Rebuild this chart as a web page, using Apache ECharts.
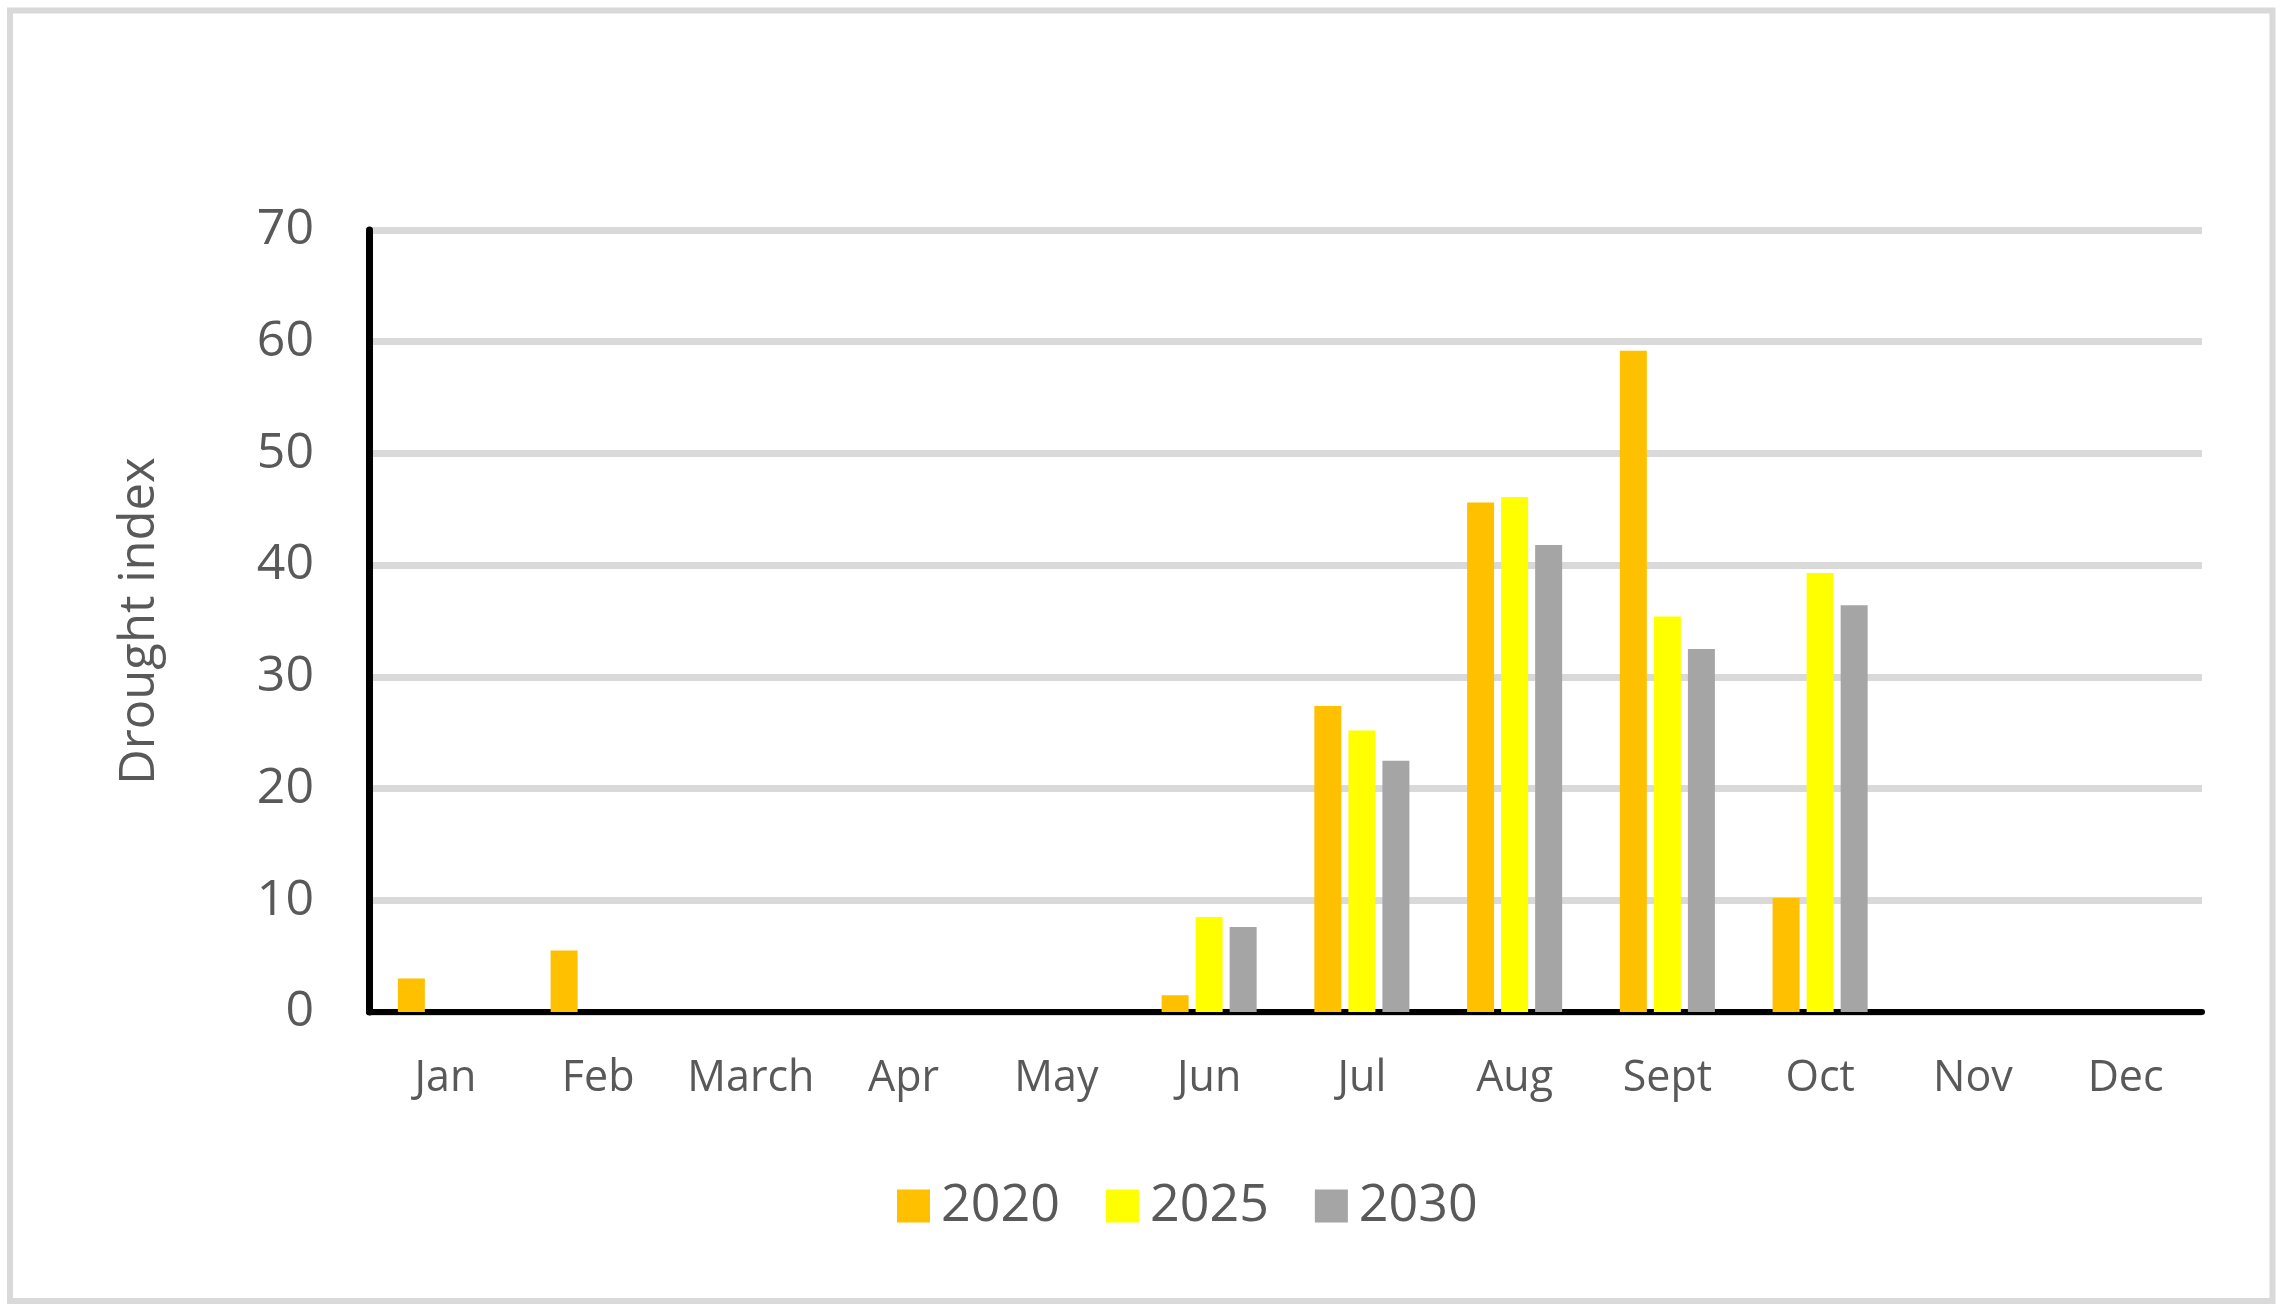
<!DOCTYPE html>
<html>
<head>
<meta charset="utf-8">
<script src="https://cdn.jsdelivr.net/npm/echarts@6/dist/echarts.min.js"></script>
<style>
  html, body { margin: 0; padding: 0; background: #fff; }
  #echarts { width: 2281px; height: 1311px; }
</style>
</head>
<body>
<div id="echarts"></div>
<script>
    var months = ['Jan', 'Feb', 'March', 'Apr', 'May', 'Jun', 'Jul', 'Aug', 'Sept', 'Oct', 'Nov', 'Dec']
    var years = ['2020', '2025', '2030']
    var yTicks = [0, 10, 20, 30, 40, 50, 60, 70]

    // drought index
    var data2020 = [3.0, 5.5, 0, 0, 0, 1.5, 27.4, 45.6, 59.2, 10.2, 0, 0]
    var data2025 = [0, 0, 0, 0, 0, 8.5, 25.2, 46.1, 35.4, 39.3, 0, 0]
    var data2030 = [0, 0, 0, 0, 0, 7.6, 22.5, 41.8, 32.5, 36.4, 0, 0]

    var colors = ['#FFC000', '#FFFF00', '#A5A5A5']
    var fontName = 'Open Sans'
    var labelColor = '#595959'

    var chart = echarts.init(document.getElementById('echarts'))

    var makeSeries = function (name, values, color) {
        return {
            name: name,
            type: 'bar',
            data: values,
            barWidth: 27,
            barGap: '26%',
            itemStyle: { color: color }
        }
    }

    var option = {
        animation: false,
        backgroundColor: '#fff',
        color: colors,
        graphic: [
            {
                type: 'rect',
                shape: { x: 10, y: 10.5, width: 2262.5, height: 1290.5 },
                style: { fill: null, stroke: '#D9D9D9', lineWidth: 6 },
                silent: true
            }
        ],
        grid: {
            left: 369,
            right: 79,
            top: 230,
            bottom: 299
        },
        legend: {
            data: years,
            left: 892,
            top: 1175,
            itemWidth: 33,
            itemHeight: 33,
            itemGap: 46,
            icon: 'rect',
            textStyle: {
                fontFamily: fontName,
                fontSize: 52,
                color: labelColor,
                padding: [0, 0, 0, 6]
            }
        },
        xAxis: {
            type: 'category',
            data: months,
            axisLine: { lineStyle: { color: '#000', width: 6 } },
            axisTick: { show: false },
            axisLabel: {
                fontFamily: fontName,
                fontSize: 43,
                color: labelColor,
                margin: 45,
                interval: 0
            },
            splitLine: { show: false }
        },
        yAxis: {
            type: 'value',
            min: yTicks[0],
            max: yTicks[yTicks.length - 1],
            interval: 10,
            name: 'Drought index',
            nameLocation: 'middle',
            nameGap: 204,
            nameRotate: 90,
            nameTextStyle: {
                fontFamily: fontName,
                fontSize: 49,
                color: labelColor
            },
            axisLine: { show: true, lineStyle: { color: '#000', width: 7 } },
            axisTick: { show: false },
            axisLabel: {
                fontFamily: fontName,
                fontSize: 50,
                color: labelColor,
                margin: 55
            },
            splitLine: { lineStyle: { color: '#D9D9D9', width: 7 } }
        },
        series: [
            makeSeries(years[0], data2020, colors[0]),
            makeSeries(years[1], data2025, colors[1]),
            makeSeries(years[2], data2030, colors[2])
        ]
    }

    chart.setOption(option)
</script>
</body>
</html>
